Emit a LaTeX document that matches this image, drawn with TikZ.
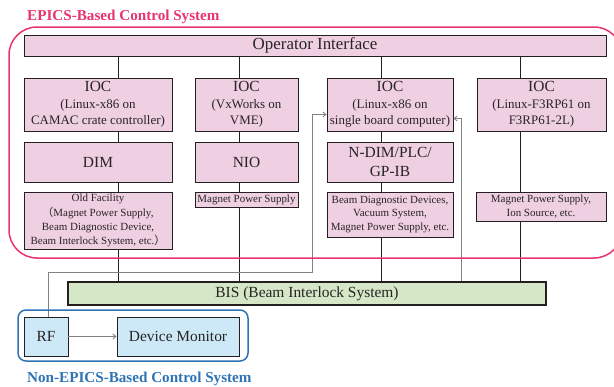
\documentclass[tikz,border=0pt]{standalone}
\usepackage{fontspec}
\setmainfont{Liberation Serif}
\newfontfamily\cjkfont{Noto Sans CJK JP}
\usetikzlibrary{arrows.meta,calc}
\definecolor{pinkfill}{RGB}{239,207,226}
\definecolor{greenfill}{RGB}{213,231,199}
\definecolor{bluefill}{RGB}{205,233,248}
\definecolor{boxline}{RGB}{35,31,32}
\definecolor{txt}{RGB}{40,36,37}
\definecolor{linkgray}{RGB}{130,130,130}
\definecolor{redc}{RGB}{232,51,107}
\definecolor{bluec}{RGB}{46,116,181}
\newcommand\bigf{\fontsize{15.5}{19}\selectfont}
\begin{document}
\begin{tikzpicture}[x=1bp,y=-1bp,
  box/.style={draw=boxline, fill=pinkfill, line width=0.9bp, inner sep=0pt, align=center, text=txt},
  big/.style={font=\fontsize{15.5}{19}\selectfont},
  mid/.style={font=\fontsize{13}{16}\selectfont},
  small/.style={font=\fontsize{11}{14.2}\selectfont},
  conn/.style={line width=0.9bp, draw=boxline},
  glink/.style={line width=0.9bp, draw=linkgray, -{Straight Barb[length=3bp,width=5bp]}},
  title/.style={anchor=base west, inner sep=0pt, font=\bfseries\fontsize{15.2}{18}\selectfont}
]
\useasboundingbox (0,0) rectangle (614,386);
\clip (0,0) rectangle (614,386);

% column coordinates
\coordinate (x1) at (118,0);
\coordinate (x2) at (239,0);
\coordinate (x3) at (381,0);
\coordinate (x4) at (520,0);
\coordinate (g1) at (312,272);
\coordinate (g2) at (461,0);

% titles
\node[title, text=redc] (t1) at (27,20.5) {EPICS-Based Control System};
\node[title, text=bluec] (t2) at (27,382.7) {Non-EPICS-Based Control System};

% boxes
\node[box, minimum width=582bp, minimum height=21bp, font=\fontsize{17}{20}\selectfont] (op) at (315,45.5) {Operator Interface};

\node[box, minimum width=148bp, minimum height=53bp, mid] (ioc1) at (98,104.5)
  {\bigf IOC\\[1.5pt](Linux-x86 on\\CAMAC crate controller)};
\node[box, minimum width=103bp, minimum height=53bp, mid] (ioc2) at (246.5,104.5)
  {\bigf IOC\\[1.5pt](VxWorks on\\VME)};
\node[box, minimum width=126bp, minimum height=53bp, mid] (ioc3) at (390,104.5)
  {\bigf IOC\\[1.5pt](Linux-x86 on\\single board computer)};
\node[box, minimum width=129bp, minimum height=53bp, mid] (ioc4) at (541.5,104.5)
  {\bigf IOC\\[1.5pt](Linux-F3RP61 on\\F3RP61-2L)};

\node[box, minimum width=148bp, minimum height=40bp, big] (dim) at (98,162) {DIM};
\node[box, minimum width=103bp, minimum height=40bp, big] (nio) at (246.5,162) {NIO};
\node[box, minimum width=126bp, minimum height=40bp, big] (ndim) at (390,162) {N-DIM/PLC/\\GP-IB};

\node[box, minimum width=148bp, minimum height=57bp, small] (old) at (98,220.5)
  {Old Facility\\{\cjkfont （}Magnet Power Supply,\\Beam Diagnostic Device,\\Beam Interlock System, etc.{\cjkfont ）}};
\node[box, minimum width=103bp, minimum height=15bp, small] (mps2) at (246.5,199.5) {Magnet Power Supply};
\node[box, minimum width=126bp, minimum height=45bp, font=\fontsize{11}{13.5}\selectfont] (bd) at (390,214.5)
  {Beam Diagnostic Devices,\\Vacuum System,\\Magnet Power Supply, etc.};
\node[box, minimum width=130bp, minimum height=29bp, font=\fontsize{11}{13.5}\selectfont] (mps4) at (541,206.5)
  {Magnet Power Supply,\\Ion Source, etc.};

\node[box, fill=greenfill, line width=2bp, minimum width=478bp, minimum height=23bp, big] (bis) at (307,293.5)
  {BIS (Beam Interlock System)};

\node[box, fill=bluefill, minimum width=44bp, minimum height=39bp, big] (rf) at (46,336.5) {RF};
\node[box, fill=bluefill, minimum width=122bp, minimum height=39bp, big] (dm) at (178,336.5) {Device Monitor};

% black connectors
\foreach \a/\b/\x in {op/ioc1/x1, ioc1/dim/x1, dim/old/x1, old/bis/x1,
                      op/ioc2/x2, ioc2/nio/x2, nio/mps2/x2, mps2/bis/x2,
                      op/ioc3/x3, ioc3/ndim/x3, ndim/bd/x3, bd/bis/x3,
                      op/ioc4/x4, ioc4/mps4/x4, mps4/bis/x4}
  \draw[conn] (\a.south -| \x) -- (\b.north -| \x);

% gray links
\draw[glink] ([xshift=2bp]rf.north) |- (g1) |- ($(ioc3.south west)+(0,-17)$);
\draw[glink] (bis.north -| g2) |- ($(ioc3.south east)+(0,-13)$);
\draw[glink] (rf) -- (dm);

% system outlines
\draw[redc, line width=1.5bp, rounded corners=28bp] (9,27) rectangle (622,258);
\draw[bluec, line width=1.5bp, rounded corners=8bp] (18,310) rectangle (248,361);
\end{tikzpicture}
\end{document}
